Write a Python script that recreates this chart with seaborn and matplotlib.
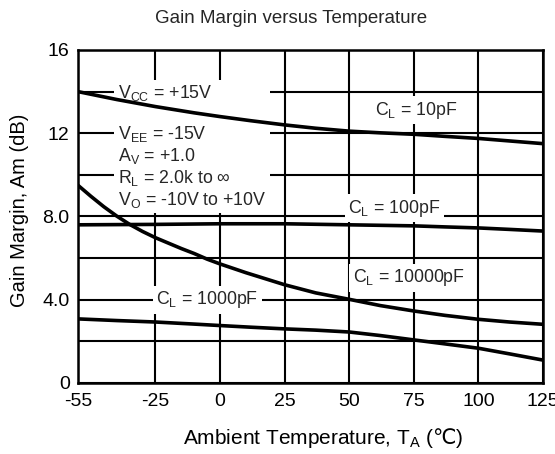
import pandas as pd
import matplotlib
matplotlib.use("Agg")
import matplotlib.pyplot as plt
import seaborn as sns

# temperatures (deg C) and gain margin (dB)
TEMP_10PF = [-55, -40, -25, -10, 0, 12, 25, 37, 50, 62, 75, 87, 100, 112, 125]
GM_10PF = [14.0, 13.62, 13.28, 12.98, 12.8, 12.6, 12.4, 12.24, 12.1, 12.02,
           11.95, 11.85, 11.75, 11.63, 11.5]

TEMP_100PF = [-55, -25, 0, 25, 50, 75, 87, 100, 112, 125]
GM_100PF = [7.6, 7.62, 7.65, 7.65, 7.6, 7.55, 7.5, 7.45, 7.38, 7.3]

TEMP_10000PF = [-55, -50, -45, -40, -35, -30, -25, -20, -15, -10, -5, 0,
                10, 25, 37, 50, 62, 75, 87, 100, 112, 125]
GM_10000PF = [9.5, 8.97, 8.47, 8.02, 7.62, 7.28, 6.98, 6.72, 6.46, 6.22,
              5.95, 5.72, 5.3, 4.72, 4.33, 4.02, 3.72, 3.46, 3.25, 3.06,
              2.93, 2.82]

TEMP_1000PF = [-55, -40, -25, -10, 0, 12, 25, 37, 50, 62, 75, 87, 100, 112, 125]
GM_1000PF = [3.08, 3.0, 2.93, 2.83, 2.76, 2.68, 2.6, 2.54, 2.45, 2.28, 2.07,
             1.88, 1.67, 1.4, 1.1]

X_TICKS = [-55, -25, 0, 25, 50, 75, 100, 125]
Y_GRID = [0, 2, 4, 6, 8, 10, 12, 14, 16]
Y_TICKLABELS = ["0", "", "4.0", "", "8.0", "", "12", "", "16"]

TITLE = "Gain Margin versus Temperature"
XLABEL = "Ambient Temperature, T$\\mathregular{_A}$ ($\\mathsf{℃}$)"
YLABEL = "Gain Margin, Am (dB)"

COND_TEXT = ("$\\mathregular{V_{CC}}$ = +15V\n\n"
             "$\\mathregular{V_{EE}}$ = -15V\n"
             "$\\mathregular{A_V}$ = +1.0\n"
             "$\\mathregular{R_L}$ = 2.0k to ∞\n"
             "$\\mathregular{V_O}$ = -10V to +10V")


def build_frame():
    rows = []
    for name, xs, ys in [("10pF", TEMP_10PF, GM_10PF),
                         ("100pF", TEMP_100PF, GM_100PF),
                         ("10000pF", TEMP_10000PF, GM_10000PF),
                         ("1000pF", TEMP_1000PF, GM_1000PF)]:
        for x, y in zip(xs, ys):
            rows.append({"load": name, "temp": x, "gm": y})
    return pd.DataFrame(rows)


def main():
    sns.set_style("white")
    plt.rcParams["font.family"] = ["Liberation Sans", "DejaVu Sans"]
    plt.rcParams["mathtext.fontset"] = "custom"
    plt.rcParams["mathtext.rm"] = "Liberation Sans"
    plt.rcParams["mathtext.sf"] = "DejaVu Sans"

    df = build_frame()

    fig = plt.figure(figsize=(5.55, 4.54), dpi=100)
    ax = fig.add_axes([0.1405, 0.1564, 0.8379, 0.7335])

    sns.lineplot(data=df, x="temp", y="gm", units="load", estimator=None,
                 color="black", linewidth=2.6, sort=False, ax=ax, zorder=4)

    ax.set_xlim(-55, 125)
    ax.set_ylim(0, 16)
    ax.set_xticks(X_TICKS)
    ax.set_xticklabels([str(t) for t in X_TICKS])
    ax.set_yticks(Y_GRID)
    ax.set_yticklabels(Y_TICKLABELS)
    ax.tick_params(length=0, labelsize=14, colors="black")
    ax.tick_params(axis="x", pad=7)
    ax.tick_params(axis="y", pad=6)
    ax.grid(True, color="black", linewidth=1.5, zorder=1)
    ax.set_axisbelow(True)
    for sp in ax.spines.values():
        sp.set_color("black")
        sp.set_linewidth(1.8)
        sp.set_zorder(5)

    ax.set_xlabel(XLABEL, fontsize=15, color="black")
    ax.set_ylabel(YLABEL, fontsize=14.5, color="black")
    ax.xaxis.set_label_coords(0.527, -0.13)
    ax.yaxis.set_label_coords(-0.105, 0.52)
    fig.text(0.524, 0.96, TITLE, ha="center", va="center", fontsize=13.5)

    box = dict(facecolor="white", edgecolor="none", pad=2.5)
    ax.text(-39.6, 14.4, COND_TEXT, ha="left", va="top", fontsize=12.8,
            linespacing=1.13, bbox=box, zorder=3)
    ax.text(76, 13.1, "$\\mathregular{C_L}$ = 10pF", ha="center", va="center",
            fontsize=12.8, bbox=box, zorder=3)
    ax.text(67.5, 8.4, "$\\mathregular{C_L}$ = 100pF", ha="center", va="center",
            fontsize=12.8, bbox=box, zorder=3)
    ax.text(73, 5.05, "$\\mathregular{C_L}$ = 10000pF", ha="center", va="center",
            fontsize=12.8, bbox=box, zorder=3)
    ax.text(-5, 4.0, "$\\mathregular{C_L}$ = 1000pF", ha="center", va="center",
            fontsize=12.8, bbox=box, zorder=3)

    fig.savefig("out.png", dpi=100)
    plt.close(fig)


if __name__ == "__main__":
    main()
